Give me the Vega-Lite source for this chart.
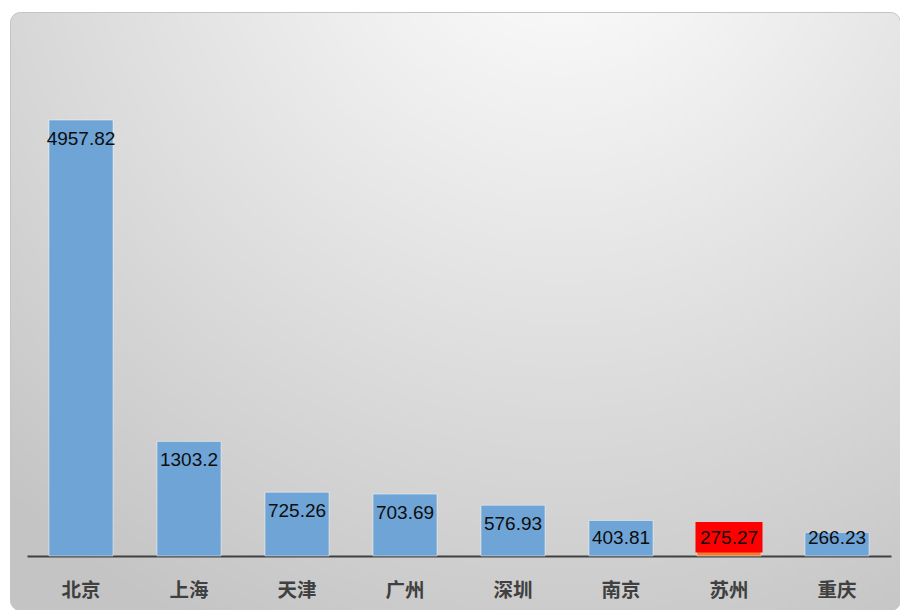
{
  "$schema": "https://vega.github.io/schema/vega-lite/v6.json",
  "width": 890,
  "height": 598,
  "autosize": {"type": "none"},
  "padding": {"left": 10, "top": 12, "right": 0, "bottom": 0},
  "background": "#ffffff",
  "config": {
    "view": {
      "cornerRadius": 10,
      "stroke": "#c4c4c4",
      "strokeWidth": 1,
      "fill": {
        "gradient": "radial",
        "x1": 0.62, "y1": 0.03, "r1": 0,
        "x2": 0.62, "y2": 0.03, "r2": 0.92,
        "stops": [
          {"offset": 0, "color": "#ffffff"},
          {"offset": 0.3, "color": "#eeeeee"},
          {"offset": 1, "color": "#c4c4c4"}
        ]
      }
    }
  },
  "data": {
    "values": [
      {"city": "北京", "value": 4957.82},
      {"city": "上海", "value": 1303.2},
      {"city": "天津", "value": 725.26},
      {"city": "广州", "value": 703.69},
      {"city": "深圳", "value": 576.93},
      {"city": "南京", "value": 403.81},
      {"city": "苏州", "value": 275.27},
      {"city": "重庆", "value": 266.23}
    ]
  },
  "transform": [
    {"calculate": "max(datum.value - 205, 216)", "as": "labelY"}
  ],
  "encoding": {
    "x": {
      "field": "city",
      "type": "nominal",
      "sort": null,
      "scale": {"range": [17, 881], "paddingInner": 0.4074, "paddingOuter": 0.2037},
      "axis": {
        "title": null,
        "offset": -54,
        "ticks": false,
        "tickSize": 0,
        "domainColor": "#404040",
        "domainWidth": 2,
        "labelAngle": 0,
        "labelPadding": 25,
        "labelFont": "Noto Sans CJK SC",
        "labelFontSize": 19.5,
        "labelFontWeight": "bold",
        "labelColor": "#404040",
        "grid": false
      }
    }
  },
  "layer": [
    {
      "mark": {"type": "bar", "stroke": "#ffffff", "strokeOpacity": 0.45, "strokeWidth": 1},
      "encoding": {
        "y": {
          "field": "value",
          "type": "quantitative",
          "scale": {"domain": [0, 5686], "range": [544, 44], "nice": false, "zero": true},
          "axis": null
        },
        "color": {
          "condition": {"test": "datum.city === '苏州'", "value": "#ed7d31"},
          "value": "#6fa4d7"
        }
      }
    },
    {
      "transform": [{"filter": "datum.city === '苏州'"}],
      "mark": {"type": "rect", "color": "#ff0000", "width": 67, "yOffset": -15, "y2Offset": 15.5},
      "encoding": {
        "y": {"field": "labelY", "type": "quantitative", "scale": {"domain": [0, 5686], "range": [544, 44], "nice": false}},
        "y2": {"field": "labelY"}
      }
    },
    {
      "mark": {
        "type": "text",
        "font": "Liberation Sans",
        "fontSize": 19,
        "color": "#0d0d0d",
        "baseline": "middle",
        "align": "center",
        "dy": 1
      },
      "encoding": {
        "y": {"field": "labelY", "type": "quantitative", "scale": {"domain": [0, 5686], "range": [544, 44], "nice": false}},
        "text": {"field": "value", "type": "quantitative", "format": ".2~f"}
      }
    }
  ]
}
